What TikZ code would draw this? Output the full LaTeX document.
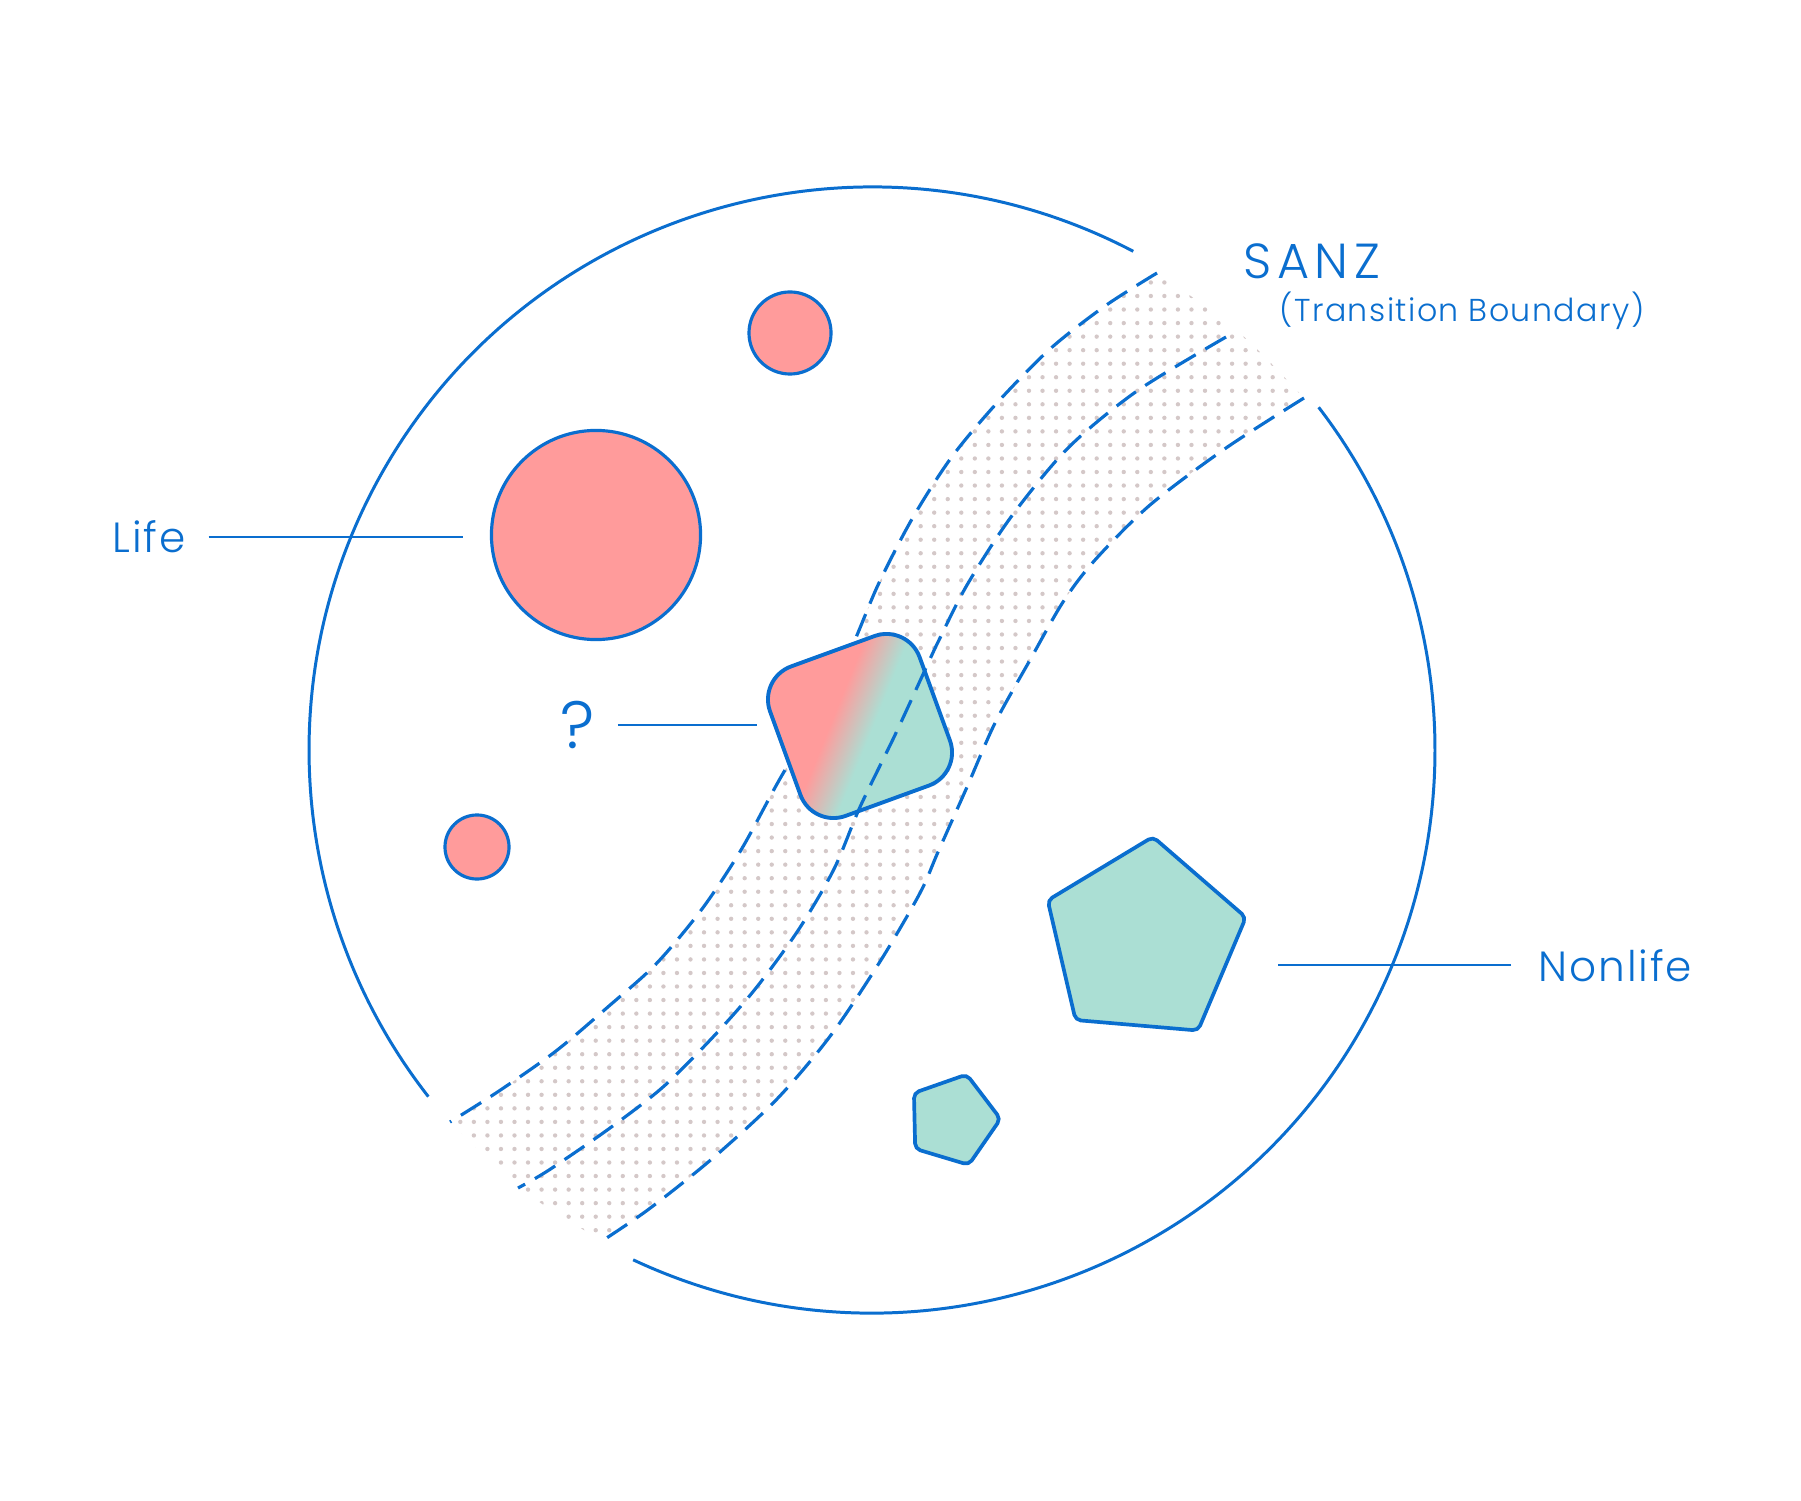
\documentclass[tikz,border=0pt]{standalone}
\usepackage{fontspec}
\setmainfont{Poppins}[UprightFont=* Light, LetterSpace=4.5]
\newfontfamily\sanzfont{Poppins}[UprightFont=* Light, LetterSpace=11]
\usepackage{tikz}
\definecolor{inkblue}{RGB}{10, 110, 207}
\definecolor{lifepink}{RGB}{255, 155, 155}
\definecolor{nonteal}{RGB}{171, 223, 212}
\definecolor{dotgray}{RGB}{212, 200, 200}
\usetikzlibrary{shapes.geometric, patterns}
\pgfdeclarehorizontalshading{lifetonon}{100bp}{color(0bp)=(lifepink); color(43bp)=(lifepink); color(53bp)=(nonteal); color(100bp)=(nonteal)}
\pgfdeclarepatternformonly{sanzdots}{\pgfqpoint{-1pt}{-1pt}}{\pgfqpoint{1pt}{1pt}}{\pgfqpoint{3.85pt}{3.85pt}}{\pgfpathcircle{\pgfqpoint{0pt}{0pt}}{0.62pt}\pgfusepath{fill}}

\begin{document}
\begin{tikzpicture}[x=0.01cm, y=-0.01cm,
    lifedot/.style={circle, draw=inkblue, line width=0.9pt, fill=lifepink, inner sep=0pt},
    nondot/.style={regular polygon, regular polygon sides=5, draw=inkblue, line width=1.05pt,
                   fill=nonteal, rounded corners=1.5pt, inner sep=0pt},
    mixbox/.style={rectangle, draw=inkblue, line width=1.1pt, rounded corners=10pt, shade,
                   shading=lifetonon, shading angle=-22, minimum size=1.59cm, inner sep=0pt},
    sanzedge/.style={inkblue, line width=0.9pt, dash pattern=on 6.8pt off 3.2pt},
    labelline/.style={inkblue, line width=0.7pt},
    tagtext/.style={inkblue, inner sep=0pt, font=\fontsize{12}{14}\selectfont}
]
    \path[fill=white, use as bounding box] (0,0) rectangle (1801,1501);

    % Dotted transition band
    \fill[pattern=sanzdots, pattern color=dotgray]
        plot[smooth] coordinates {(1157,273) (1105,306) (1050,349) (996,404) (951,458) (912,519) (878,585) (850,651) (815,718) (777,784) (741,850) (702,909) (656,964) (609,1006) (556,1051) (499,1091) (450,1122)}
        .. controls (519,1191) .. (602,1241)
        -- plot[smooth] coordinates {(602,1241) (649,1209) (713,1158) (777,1099) (831,1035) (881,960) (920,893) (938,852) (967,787) (995,723) (1030,660) (1063,602) (1095,560) (1150,505) (1226,448) (1304,398)}
        .. controls (1238,328) .. (1157,273) -- cycle;

    % Outer circle, broken where the band passes
    \draw[inkblue, line width=0.85pt] (872,750) ++(-62.35:563) arc[start angle=-62.35, end angle=-218, radius=563];
    \draw[inkblue, line width=0.85pt] (872,750) ++(-244.9:563) arc[start angle=-244.9, end angle=-397.5, radius=563];

    % Outer dashed edges of the band
    \draw[sanzedge] plot[smooth] coordinates {(1157,273) (1105,306) (1050,349) (996,404) (951,458) (912,519) (878,585) (850,651) (815,718) (777,784) (741,850) (702,909) (656,964) (609,1006) (556,1051) (499,1091) (450,1122)};
    \draw[sanzedge] plot[smooth] coordinates {(1304,398) (1226,448) (1150,505) (1095,560) (1063,602) (1030,660) (995,723) (967,787) (938,852) (920,893) (881,960) (831,1035) (777,1099) (713,1158) (649,1209) (602,1241)};

    % Life side
    \node[lifedot, minimum size=0.82cm] (lifetop) at (790,333) {};
    \node[lifedot, minimum size=2.09cm] (lifebig) at (596,535) {};
    \node[lifedot, minimum size=0.64cm] (lifelow) at (477,847) {};

    % Nonlife side
    \node[nondot, minimum size=2.09cm, rotate=-4.9] (bigpent) at (1144,941) {};
    \node[nondot, minimum size=0.95cm, rotate=-16.7] (smallpent) at (953,1120) {};

    % The in-between shape
    \node[mixbox, rotate=20] (qshape) at (860,726) {};

    % Middle dashed line over the shape
    \draw[sanzedge] plot[smooth] coordinates {(1226,337) (1137,391) (1068,448) (1011,517) (967,585) (939,640) (925,670) (895,735) (860,807) (834,869) (799,929) (756,988) (713,1037) (663,1087) (610,1128) (549,1170) (518,1188)};

    % Labels
    \node[tagtext, anchor=base west] (lifelabel) at (112,553) {Life};
    \node[tagtext, anchor=base west] (nonlabel) at (1538,981) {Nonlife};
    \node[tagtext, font=\fontsize{19}{22}\selectfont] (qlabel) at (578,725) {?};
    \node[tagtext, font=\sanzfont\fontsize{14}{16}\selectfont, anchor=base west] (sanzlabel) at (1243,279) {SANZ};
    \node[tagtext, font=\fontsize{9}{11}\selectfont, anchor=base west] (sanzsub) at (1279,322) {(Transition Boundary)};

    \draw[labelline, shorten <=0.22cm, shorten >=0.27cm] (lifelabel.east) -- (lifelabel.east -| lifebig.west);
    \draw[labelline, shorten <=0.22cm, shorten >=0.26cm] (qlabel.east) -- (qlabel.east -| qshape.west);
    \draw[labelline, shorten <=0.27cm, shorten >=0.43cm] (nonlabel.west) -- (nonlabel.west -| bigpent.east);
\end{tikzpicture}
\end{document}
